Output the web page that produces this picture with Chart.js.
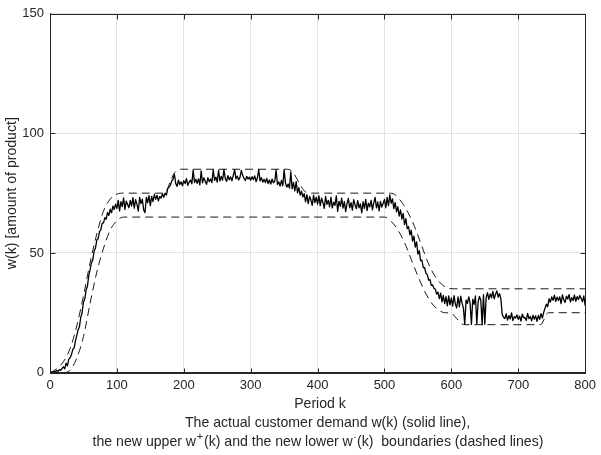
<!DOCTYPE html>
<html>
<head>
<meta charset="utf-8">
<script src="https://cdn.jsdelivr.net/npm/chart.js@4.4.0/dist/chart.umd.min.js"></script>
<style>
  html, body { margin:0; padding:0; background:#fff; }
</style>
</head>
<body>
<canvas id="grafico" width="601" height="455"></canvas>
<script>
// demand w(k), one value every 2 periods (k = 0, 2, ... 800)
const periodStep = 2;
const demand = [
  0, 0.2, 0.1, 0.4, 0.3, 0.8, 0.5, 1.2, 0.9, 1.6,
  2.4, 1.5, 3.9, 2.8, 5.5, 6.2, 7.4, 9.6, 10.2, 13.1,
  15.4, 17.8, 19.2, 23.1, 25.0, 29.4, 30.8, 34.5, 36.2, 40.6,
  43.1, 45.9, 47.2, 50.8, 52.1, 55.4, 56.0, 58.9, 59.7, 62.4,
  62.6, 64.8, 64.1, 66.9, 65.7, 68.3, 66.8, 69.6, 68.2, 70.4,
  68.6, 72.0, 67.6, 71.4, 69.4, 73.0, 68.2, 71.7, 70.3, 68.9,
  72.0, 69.6, 73.1, 68.7, 72.3, 70.4, 67.5, 73.2, 70.6, 72.5,
  68.0, 66.8, 73.2, 71.0, 74.0, 69.8, 73.6, 71.5, 74.5, 72.4,
  74.1, 71.8, 73.6, 72.9, 74.8, 73.3, 75.0, 74.2, 76.9, 77.5,
  78.4, 80.1, 80.9, 82.8, 79.0, 77.8, 80.4, 78.6, 79.7, 78.1,
  80.2, 79.0, 81.1, 78.3, 79.6, 80.5, 78.9, 84.7, 79.4, 80.8,
  79.1, 81.0, 78.5, 84.3, 79.3, 81.4, 80.0, 78.7, 81.5, 79.8,
  80.9, 79.4, 84.8, 80.3, 81.7, 79.6, 84.6, 80.1, 82.0, 80.4,
  84.9, 81.1, 79.9, 82.3, 80.6, 81.8, 80.2, 82.4, 84.8, 81.0,
  82.1, 80.5, 81.6, 84.5, 82.5, 81.2, 80.3, 82.0, 80.9, 81.7,
  80.4, 81.9, 80.7, 82.2, 79.8, 81.3, 84.9, 80.1, 81.5, 79.6,
  80.8, 79.4, 81.2, 79.0, 80.5, 78.8, 80.9, 79.3, 80.1, 84.7,
  78.6, 79.7, 77.9, 80.3, 78.1, 84.8, 79.2, 77.5, 78.8, 77.1,
  83.9, 76.8, 79.5, 75.9, 79.8, 75.1, 77.3, 74.2, 75.8, 73.4,
  74.8, 71.4, 74.4, 70.6, 73.6, 72.2, 69.9, 74.2, 71.0, 73.3,
  70.4, 73.9, 69.8, 72.9, 71.1, 68.6, 73.6, 70.3, 72.0, 69.3,
  73.3, 68.8, 71.2, 69.9, 73.9, 67.4, 71.6, 69.5, 72.9, 68.7,
  71.5, 67.3, 70.6, 72.8, 68.9, 71.0, 67.9, 72.3, 70.1, 68.5,
  71.9, 68.9, 70.5, 66.8, 71.4, 68.6, 72.4, 67.7, 70.8, 69.3,
  72.0, 68.0, 70.9, 73.2, 68.8, 71.3, 67.6, 71.6, 69.2, 70.7,
  72.4, 68.9, 73.2, 69.8, 74.3, 70.8, 72.6, 68.5, 71.0, 67.2,
  69.3, 65.4, 68.0, 64.2, 66.5, 61.8, 64.3, 60.2, 61.0, 57.6,
  59.5, 54.9, 57.0, 52.4, 54.6, 49.5, 50.9, 46.8, 47.0, 43.9,
  43.8, 41.5, 41.0, 38.6, 38.9, 36.4, 36.6, 35.2, 34.8, 32.8,
  33.6, 30.9, 33.2, 29.5, 32.2, 28.8, 31.7, 27.9, 32.0, 28.3,
  31.2, 27.8, 32.1, 28.6, 27.0, 31.6, 27.5, 31.9, 29.0, 26.9,
  20.2, 30.3, 28.9, 31.6, 29.0, 20.1, 30.7, 28.5, 32.0, 20.3,
  29.4, 31.8, 30.2, 20.0, 32.6, 20.2, 31.3, 33.4, 30.6, 32.9,
  31.2, 33.9, 30.8, 32.7, 34.1, 31.5, 33.0, 30.9, 24.3, 23.1,
  22.6, 24.5, 21.9, 23.8, 22.4, 24.9, 21.7, 23.3, 22.8, 24.1,
  22.2, 23.6, 21.5, 24.4, 22.9, 23.0, 21.8, 24.7, 22.5, 23.4,
  21.6, 24.0, 22.3, 23.7, 21.4, 23.9, 22.2, 24.6, 22.8, 25.1,
  26.9, 28.6, 27.5, 30.8, 29.4, 31.6, 30.2, 32.3, 29.7, 31.5,
  30.2, 31.6, 28.8, 32.5, 30.4, 29.3, 31.9, 30.7, 32.6, 29.5,
  31.3, 30.1, 32.4, 29.8, 31.7, 30.5, 32.2, 31.0, 29.6, 32.0,
  28.0
];

// new upper boundary w+(k)
const upperK = [0, 10, 20, 30, 40, 50, 60, 70, 80, 90, 100, 110, 170, 175, 180, 185, 190, 195,
  355, 360, 365, 370, 375, 380, 385, 390, 505, 515, 525, 535, 545, 555, 565, 575, 585, 595, 605, 800];
const upperW = [0, 1.5, 4.5, 10, 19.5, 32, 46, 58, 67.5, 72.5, 74.6, 75, 75, 76.5, 80, 83, 84.5, 85,
  85, 84.5, 83, 80.5, 78, 76, 75.2, 75, 75, 74.5, 71.5, 67, 61, 53.5, 46, 40.5, 37, 35.3, 35, 35];

// new lower boundary w-(k)
const lowerK = [0, 20, 30, 40, 50, 60, 70, 80, 90, 100, 110, 500, 510, 520, 530, 540, 550,
  560, 570, 580, 590, 600, 608, 616, 620, 733, 745, 800];
const lowerW = [0, 0, 1, 6, 15, 29, 42, 52, 59.5, 63.5, 65, 65, 63.2, 59.6, 54.3, 47.3, 40.3,
  34, 29.2, 26.3, 25, 24.8, 22.5, 20.3, 20, 20, 25, 25];

const xTicks = [0, 100, 200, 300, 400, 500, 600, 700, 800];
const yTicks = [0, 50, 100, 150];

const fuente = "'Liberation Sans', Arial, Helvetica, sans-serif";
const colorEje = "#262626";
const tamEtiqueta = 14.1;

function puntos(ks, ws){
  return ws.map((w, i) => ({x: ks[i], y: w}));
}

const demandPts = demand.map((w, i) => ({x: i * periodStep, y: w}));

// caja completa con marcas hacia adentro y leyenda del eje x en tres lineas
const cajaPlugin = {
  id: "caja",
  afterDraw(chart){
    const ctx = chart.ctx;
    const a = chart.chartArea;
    const sx = chart.scales.x, sy = chart.scales.y;
    const L = Math.round(a.left) + 0.5, R = Math.round(a.right) + 0.5;
    const T = Math.round(a.top) + 0.5, B = Math.round(a.bottom) + 0.5;
    ctx.save();
    ctx.strokeStyle = colorEje;
    ctx.lineWidth = 1;
    ctx.setLineDash([]);
    ctx.strokeRect(L, T, R - L, B - T);
    ctx.beginPath();
    xTicks.forEach(v => {
      const px = Math.round(sx.getPixelForValue(v)) + 0.5;
      ctx.moveTo(px, B); ctx.lineTo(px, B - 5);
      ctx.moveTo(px, T); ctx.lineTo(px, T + 5);
    });
    yTicks.forEach(v => {
      const py = Math.round(sy.getPixelForValue(v)) + 0.5;
      ctx.moveTo(L, py); ctx.lineTo(L + 5, py);
      ctx.moveTo(R, py); ctx.lineTo(R - 5, py);
    });
    ctx.stroke();

    ctx.fillStyle = colorEje;
    ctx.textBaseline = "middle";
    ctx.textAlign = "left";
    const lineas = [
      {cx: 320, y: 404, partes: [{t: "Period k"}]},
      {cx: 327.5, y: 423, partes: [{t: "The actual customer demand w(k) (solid line),"}]},
      {cx: 318, y: 442, partes: [
        {t: "the new upper w"}, {t: "+", sup: true},
        {t: "(k) and the new lower w"}, {t: "-", sup: true, chico: true},
        {t: "(k)  boundaries (dashed lines)"}
      ]}
    ];
    lineas.forEach(l => {
      let total = 0;
      l.partes.forEach(p => {
        ctx.font = (p.sup ? (p.chico ? 8 : 11) : tamEtiqueta) + "px " + fuente;
        p.w = ctx.measureText(p.t).width + (p.sup ? 1.5 : 0);
        total += p.w;
      });
      let x = l.cx - total / 2;
      l.partes.forEach(p => {
        ctx.font = (p.sup ? (p.chico ? 8 : 11) : tamEtiqueta) + "px " + fuente;
        ctx.fillText(p.t, x + (p.sup ? 0.8 : 0), p.sup ? l.y - 5 : l.y);
        x += p.w;
      });
    });
    ctx.restore();
  }
};

const ctx = document.getElementById("grafico").getContext("2d");

const grafico = new Chart(ctx, {
  type: "line",
  data: {
    datasets: [
      {
        label: "w(k)",
        data: demandPts,
        borderColor: "#000",
        borderWidth: 1.3,
        borderJoinStyle: "round",
        pointRadius: 0,
        tension: 0,
        order: 0
      },
      {
        label: "w+(k)",
        data: puntos(upperK, upperW),
        borderColor: "#1a1a1a",
        borderWidth: 1,
        borderDash: [8, 5],
        pointRadius: 0,
        cubicInterpolationMode: "monotone",
        order: 1
      },
      {
        label: "w-(k)",
        data: puntos(lowerK, lowerW),
        borderColor: "#1a1a1a",
        borderWidth: 1,
        borderDash: [8, 5],
        pointRadius: 0,
        cubicInterpolationMode: "monotone",
        order: 2
      }
    ]
  },
  options: {
    responsive: false,
    animation: false,
    devicePixelRatio: 1,
    layout: {padding: {top: 11, right: 11, left: 0, bottom: 0}},
    plugins: {legend: {display: false}, tooltip: {enabled: false}},
    scales: {
      x: {
        type: "linear",
        min: 0,
        max: 800,
        afterBuildTicks: s => { s.ticks = xTicks.map(v => ({value: v})); },
        afterFit: s => { s.height = 82.5; },
        grid: {color: "#e2e2e2", drawTicks: false, tickLength: 0},
        border: {color: colorEje},
        ticks: {color: colorEje, font: {family: fuente, size: 13}, padding: 5, maxRotation: 0}
      },
      y: {
        type: "linear",
        min: 0,
        max: 150,
        afterBuildTicks: s => { s.ticks = yTicks.map(v => ({value: v})); },
        afterFit: s => { s.width = 50; },
        grid: {color: "#e2e2e2", drawTicks: false, tickLength: 0},
        border: {color: colorEje},
        ticks: {color: colorEje, font: {family: fuente, size: 13}, padding: 6},
        title: {
          display: true,
          text: "w(k) [amount of product]",
          color: colorEje,
          font: {family: fuente, size: tamEtiqueta},
          padding: {top: 4, bottom: 0}
        }
      }
    }
  },
  plugins: [cajaPlugin]
});
</script>
</body>
</html>
